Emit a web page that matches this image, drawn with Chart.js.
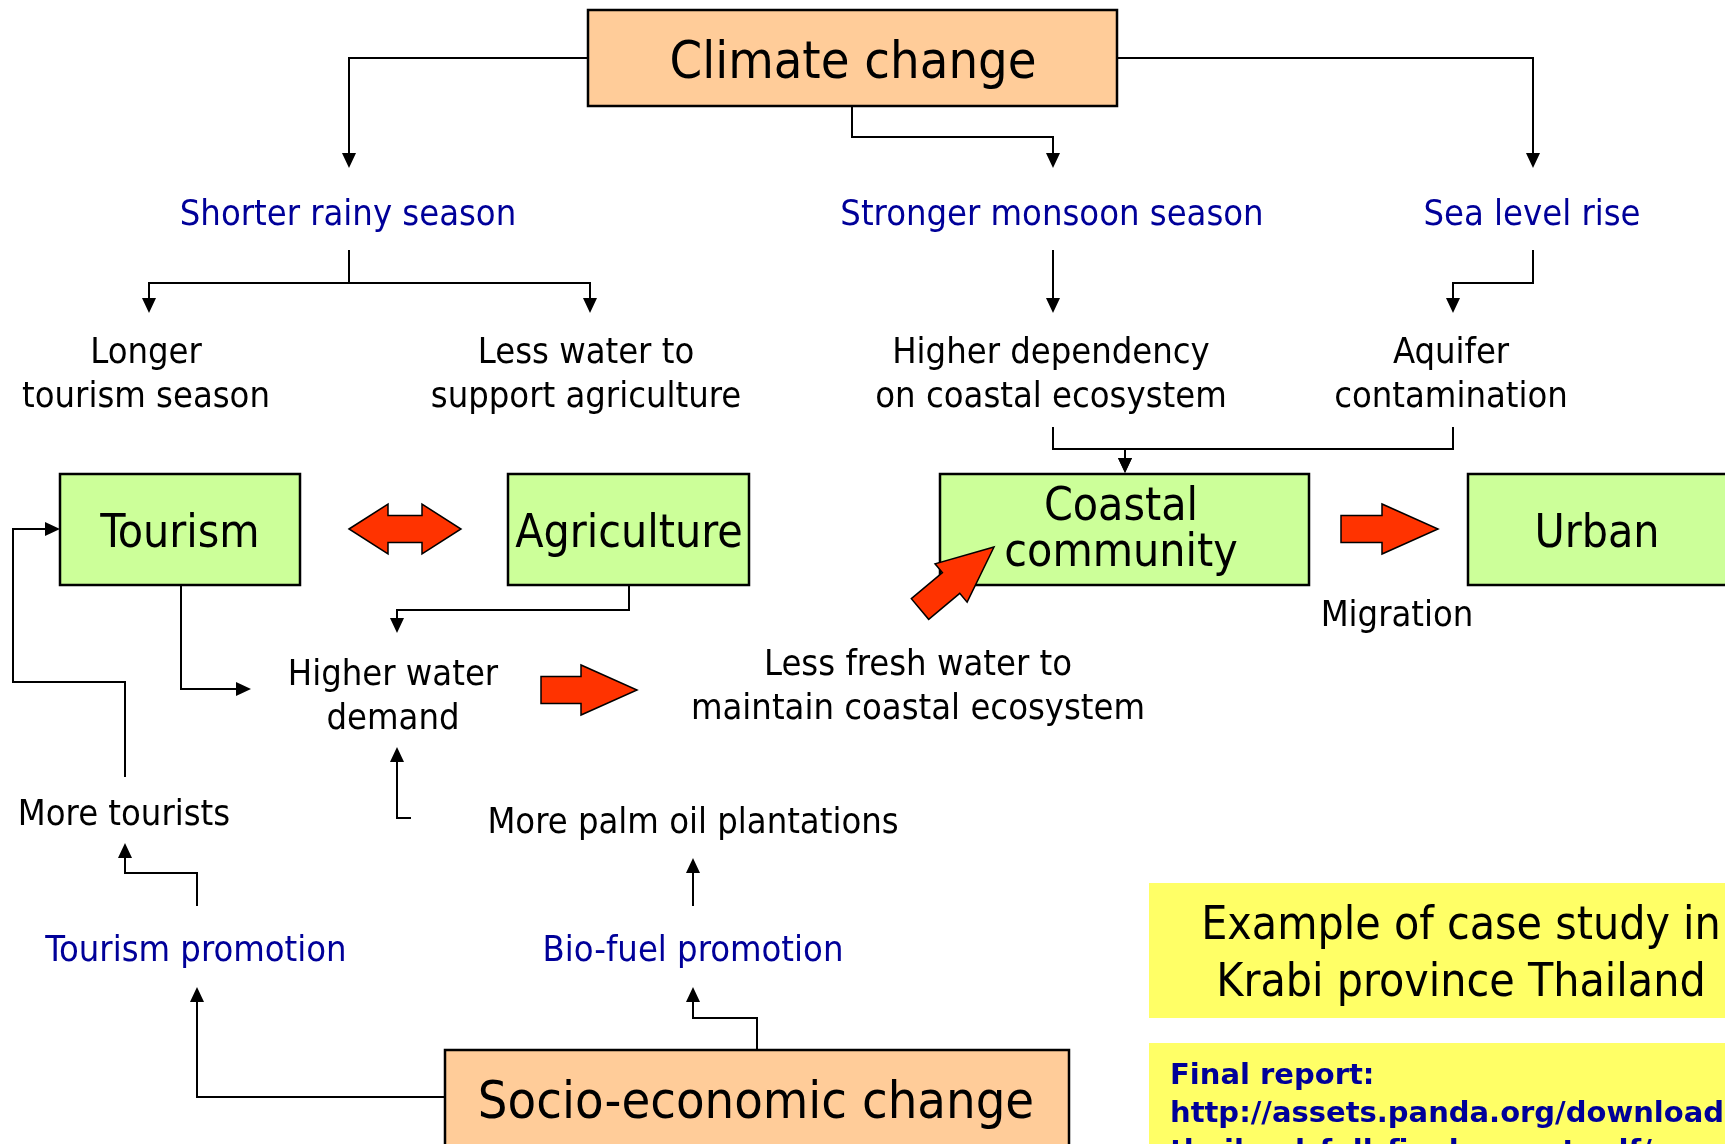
<!DOCTYPE html>
<html><head><meta charset="utf-8">
<script src="https://cdn.jsdelivr.net/npm/chart.js@4/dist/chart.umd.min.js"></script>
<style>html,body{margin:0;padding:0;background:#fff;overflow:hidden}</style>
</head><body><canvas id="c" width="1725" height="1144"></canvas>
<script>
// ---- Diagram data (in chart units: x 0..1725, y 0..1144 top-down) ----
const boxNames   = ["Climate change","Tourism","Agriculture","Coastal community","Urban","Socio-economic change","Case study","Final report"];
const boxLeft    = [588, 60, 508, 940, 1468, 445, 1149, 1149];
const boxTop     = [10, 474, 474, 474, 474, 1050, 883, 1043];
const boxRight   = [1117, 300, 749, 1309, 1760, 1069, 1760, 1760];
const boxBottom  = [106, 585, 585, 585, 585, 1190, 1018, 1190];
const boxKinds   = ["driver","sector","sector","sector","sector","driver","note","note"];

const labelLines = [
  ["Climate change"],
  ["Shorter rainy season"], ["Stronger monsoon season"], ["Sea level rise"],
  ["Longer","tourism season"], ["Less water to","support agriculture"],
  ["Higher dependency","on coastal ecosystem"], ["Aquifer","contamination"],
  ["Tourism"], ["Agriculture"], ["Coastal","community"], ["Urban"],
  ["Migration"], ["Higher water","demand"], ["Less fresh water to","maintain coastal ecosystem"],
  ["More tourists"], ["More palm oil plantations"],
  ["Tourism promotion"], ["Bio-fuel promotion"],
  ["Socio-economic change"],
  ["Example of case study in","Krabi province Thailand"],
  ["Final report:","http://assets.panda.org/downloads/","thailand_full_final_report.pdf/"]
];
const labelX = [853, 348, 1052, 1532, 146, 586, 1051, 1451, 180, 629, 1121, 1597, 1397, 393, 918, 124, 693, 196, 693, 756, 1461, 1170];
const labelY = [60, 212, 212, 212, 350, 350, 350, 350, 531, 531, 504, 531, 613, 672, 662, 812, 820, 948, 948, 1100, 923, 1074];
const labelKinds = ["title","cause","cause","cause","impact","impact","impact","impact",
  "sector","sector","sector","sector","impact","impact","impact","impact","impact",
  "cause","cause","title","note","ref"];

const connectorPaths = [
  [[588,58],[349,58],[349,168]],
  [[852,106],[852,137],[1053,137],[1053,168]],
  [[1117,58],[1533,58],[1533,168]],
  [[349,250],[349,283],[149,283],[149,313]],
  [[349,283],[590,283],[590,313]],
  [[1053,250],[1053,313]],
  [[1533,250],[1533,283],[1453,283],[1453,313]],
  [[1053,427],[1053,449],[1125,449],[1125,473]],
  [[1453,427],[1453,449],[1125,449],[1125,473]],
  [[629,585],[629,610],[397,610],[397,633]],
  [[181,585],[181,689],[251,689]],
  [[125,777],[125,682],[13,682],[13,529],[60,529]],
  [[411,818],[397,818],[397,747]],
  [[197,906],[197,873],[125,873],[125,843]],
  [[693,906],[693,858]],
  [[445,1097],[197,1097],[197,987]],
  [[757,1050],[757,1018],[693,1018],[693,987]]
];

const blockTail   = [[349,529],[541,690],[920,609],[1341,529]];
const blockTip    = [[461,529],[637,690],[994,547],[1438,529]];
const blockDouble = [true,false,false,false];

// ---- Styles ----
const FONT = '"DejaVu Sans Condensed","DejaVu Sans",sans-serif';
const FONT_WIDE = '"DejaVu Sans",sans-serif';
const textStyle = {
  title:  {size:52, color:'#000000', weight:'normal', align:'center', lh:56, fam:FONT},
  sector: {size:46, color:'#000000', weight:'normal', align:'center', lh:46, fam:FONT},
  impact: {size:36, color:'#000000', weight:'normal', align:'center', lh:44, fam:FONT},
  cause:  {size:36, color:'#000099', weight:'normal', align:'center', lh:44, fam:FONT},
  note:   {size:46, color:'#000000', weight:'normal', align:'center', lh:57, fam:FONT},
  ref:    {size:29, color:'#000099', weight:'bold',   align:'left',   lh:38, fam:FONT_WIDE}
};
const boxStyle = {
  driver: {fill:'#FFCC99', stroke:'#000000', lw:2.5},
  sector: {fill:'#CCFF99', stroke:'#000000', lw:2.5},
  note:   {fill:'#FFFF66', stroke:null, lw:0}
};

const diagramPlugin = {
  id: 'diagram',
  afterDraw(chart) {
    const ctx = chart.ctx;
    const xs = chart.scales.x, ys = chart.scales.y;
    const px = v => xs.getPixelForValue(v);
    const py = v => ys.getPixelForValue(v);
    ctx.save();
    // boxes
    boxNames.forEach((n, i) => {
      const st = boxStyle[boxKinds[i]];
      const x0 = px(boxLeft[i]), y0 = py(boxTop[i]);
      const w = px(boxRight[i]) - x0, h = py(boxBottom[i]) - y0;
      ctx.fillStyle = st.fill;
      ctx.fillRect(x0, y0, w, h);
      if (st.stroke) { ctx.strokeStyle = st.stroke; ctx.lineWidth = st.lw; ctx.strokeRect(x0, y0, w, h); }
    });
    // connectors
    ctx.strokeStyle = '#000'; ctx.fillStyle = '#000'; ctx.lineWidth = 2; ctx.lineJoin = 'miter';
    connectorPaths.forEach(path => {
      const pts = path.map(p => [px(p[0]), py(p[1])]);
      const n = pts.length;
      const [ex, ey] = pts[n-1], [sx, sy] = pts[n-2];
      const ang = Math.atan2(ey - sy, ex - sx);
      const L = 15, W = 7;
      ctx.beginPath();
      ctx.moveTo(pts[0][0], pts[0][1]);
      for (let k = 1; k < n - 1; k++) ctx.lineTo(pts[k][0], pts[k][1]);
      ctx.lineTo(ex - Math.cos(ang) * (L - 2), ey - Math.sin(ang) * (L - 2));
      ctx.stroke();
      ctx.beginPath();
      ctx.moveTo(ex, ey);
      ctx.lineTo(ex - Math.cos(ang) * L - Math.sin(ang) * W, ey - Math.sin(ang) * L + Math.cos(ang) * W);
      ctx.lineTo(ex - Math.cos(ang) * L + Math.sin(ang) * W, ey - Math.sin(ang) * L - Math.cos(ang) * W);
      ctx.closePath();
      ctx.fill();
    });
    // block arrows
    blockTail.forEach((t, i) => {
      const tx = px(t[0]), ty = py(t[1]);
      const hx = px(blockTip[i][0]), hy = py(blockTip[i][1]);
      const dx = hx - tx, dy = hy - ty, len = Math.hypot(dx, dy);
      const ux = dx / len, uy = dy / len, nx = -uy, ny = ux;
      const sh = 13.5, hh = 25;
      const hl = blockDouble[i] ? 39 : 56;
      const P = (a, b) => [tx + ux * a + nx * b, ty + uy * a + ny * b];
      let poly;
      if (blockDouble[i]) {
        poly = [P(0,0), P(hl,-hh), P(hl,-sh), P(len-hl,-sh), P(len-hl,-hh), P(len,0),
                P(len-hl,hh), P(len-hl,sh), P(hl,sh), P(hl,hh)];
      } else {
        poly = [P(0,-sh), P(len-hl,-sh), P(len-hl,-hh), P(len,0), P(len-hl,hh), P(len-hl,sh), P(0,sh)];
      }
      ctx.beginPath();
      poly.forEach((p, k) => k ? ctx.lineTo(p[0], p[1]) : ctx.moveTo(p[0], p[1]));
      ctx.closePath();
      ctx.fillStyle = '#FF3300'; ctx.fill();
      ctx.strokeStyle = '#000'; ctx.lineWidth = 1.5; ctx.stroke();
    });
    // text
    ctx.textBaseline = 'middle';
    labelLines.forEach((lines, i) => {
      const st = textStyle[labelKinds[i]];
      ctx.font = `${st.weight} ${st.size}px ${st.fam}`;
      ctx.fillStyle = st.color;
      ctx.textAlign = st.align;
      const x = px(labelX[i]);
      const off = st.size * 0.09;
      lines.forEach((ln, k) => ctx.fillText(ln, x, py(labelY[i] + k * st.lh) + off));
    });
    ctx.restore();
  }
};

new Chart(document.getElementById('c'), {
  type: 'scatter',
  data: { datasets: [{ data: labelX.map((x, i) => ({x, y: labelY[i]})), pointRadius: 0, showLine: false }] },
  options: {
    responsive: false, animation: false,
    layout: { padding: 0 },
    plugins: { legend: { display: false }, tooltip: { enabled: false } },
    scales: {
      x: { type: 'linear', min: 0, max: 1725, display: false },
      y: { type: 'linear', min: 0, max: 1144, reverse: true, display: false }
    }
  },
  plugins: [diagramPlugin]
});
</script></body></html>
